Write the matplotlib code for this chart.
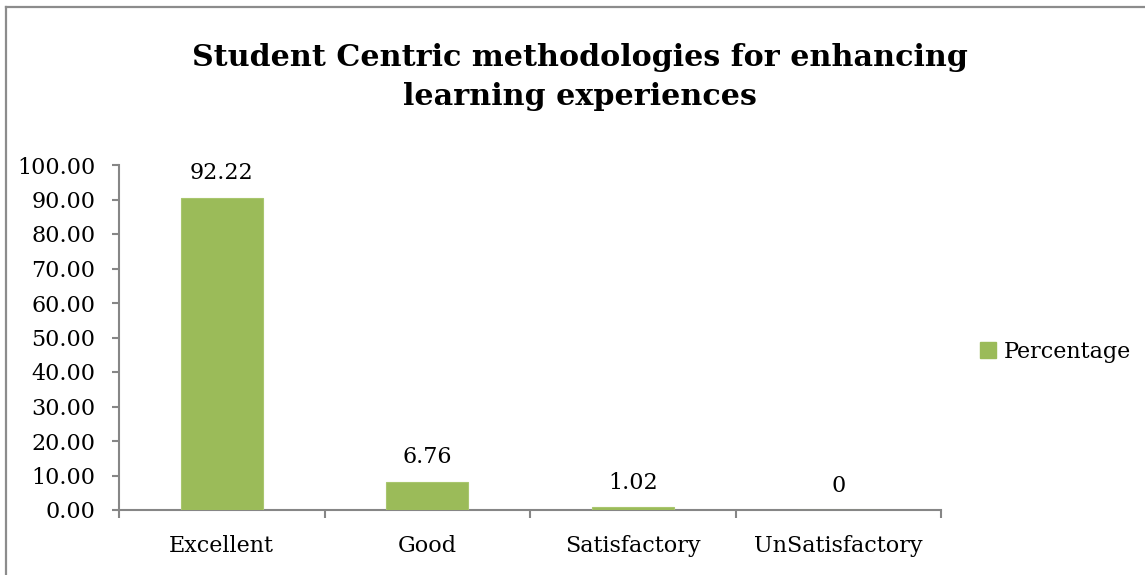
import matplotlib
matplotlib.use("Agg")
import matplotlib.pyplot as plt
from matplotlib.lines import Line2D
from matplotlib.patches import Patch

categories = ["Excellent", "Good", "Satisfactory", "UnSatisfactory"]
bar_values = [90.5, 8.2, 0.9, 0.0]
label_texts = ["92.22", "6.76", "1.02", "0"]
yticks = [0, 10, 20, 30, 40, 50, 60, 70, 80, 90, 100]
series_name = "Percentage"
title = "Student Centric methodologies for enhancing\nlearning experiences"

BAR = "#9BBB59"
AXC = "#868686"
FONT = "DejaVu Serif"
FS = 16

fig = plt.figure(figsize=(11.45, 5.75), dpi=100)
ax = fig.add_axes([119 / 1145, 1 - 510 / 575, (941 - 119) / 1145, 345 / 575])

x = list(range(len(categories)))
ax.bar(x, bar_values, width=0.4, color=BAR, edgecolor="#A9C66E", linewidth=0.8, zorder=3)

for xi, v, t in zip(x, bar_values, label_texts):
    ax.annotate(t, (xi, v), xytext=(0, 17.5), textcoords="offset points",
                ha="center", va="center", fontsize=FS, family=FONT, color="black")

ax.set_xlim(-0.5, len(categories) - 0.5)
ax.set_ylim(0, 100)
ax.set_yticks(yticks)
ax.set_yticklabels([f"{v:.2f}" for v in yticks], family=FONT, fontsize=FS)
ax.tick_params(axis="y", direction="out", length=5, width=1.5, color=AXC, pad=12)

ax.set_xticks(x)
ax.set_xticklabels(categories, family=FONT, fontsize=FS)
ax.tick_params(axis="x", which="major", length=0, pad=18)
ax.set_xticks([i - 0.5 for i in range(len(categories) + 1)], minor=True)
ax.tick_params(axis="x", which="minor", direction="out", length=6, width=1.5, color=AXC)

for s in ["top", "right"]:
    ax.spines[s].set_visible(False)
for s in ["left", "bottom"]:
    ax.spines[s].set_color(AXC)
    ax.spines[s].set_linewidth(1.5)

fig.text(580 / 1145, 1 - 77 / 575, title, ha="center", va="center",
         fontsize=21.7, fontweight="bold", family=FONT, linespacing=1.4)

leg = fig.legend(handles=[Patch(facecolor=BAR, edgecolor=BAR, label=series_name)],
                 loc="center left", bbox_to_anchor=(960 / 1145, 1 - 352 / 575),
                 frameon=False, prop={"family": FONT, "size": FS},
                 handlelength=0.7, handleheight=0.7, handletextpad=0.35)

# outer chart frame (top and left edges visible)
fig.add_artist(Line2D([5.5 / 1145, 5.5 / 1145], [0, 1 - 7 / 575], transform=fig.transFigure,
                      color="#8C8C8C", linewidth=1.6))
fig.add_artist(Line2D([5.5 / 1145, 1], [1 - 7 / 575, 1 - 7 / 575], transform=fig.transFigure,
                      color="#8C8C8C", linewidth=1.6))

fig.savefig("out.png", dpi=100, facecolor="white")
